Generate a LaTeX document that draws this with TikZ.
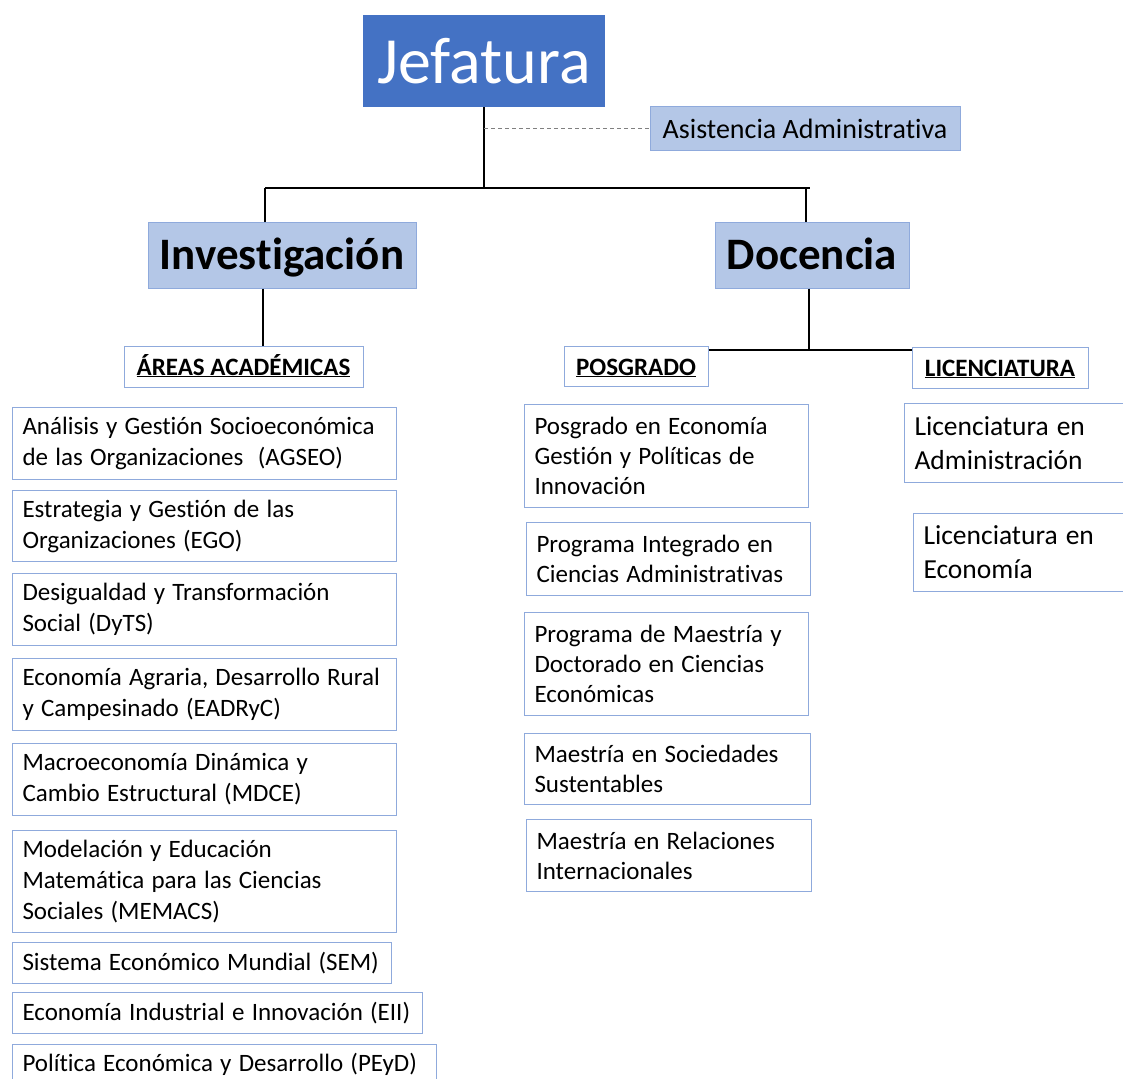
\documentclass[tikz,border=0pt]{standalone}
\usepackage{fontspec}
\setmainfont{Carlito}[Ligatures=NoCommon, RawFeature={-calt}]
\definecolor{jefblue}{HTML}{4472C4}
\definecolor{lightblue}{HTML}{B4C7E7}
\definecolor{bordblue}{HTML}{8FAADC}
\definecolor{dashgray}{HTML}{808080}
\newcommand{\tightsp}{\spaceskip=0.29em plus 0.05em minus 0.02em\relax}
\begin{document}
\begin{tikzpicture}[x=1pt,y=-1pt,
  conn/.style={draw=black, line width=1.3pt},
  headbox/.style={draw=bordblue, fill=lightblue, line width=1pt, inner sep=0pt, align=center},
  subhead/.style={draw=bordblue, fill=white, line width=1pt, inner sep=0pt, align=center, text height=17pt, text depth=0pt, font=\fontsize{25}{30}\selectfont\bfseries},
  itembox/.style={draw=bordblue, fill=white, line width=1pt, anchor=north west, align=left, inner xsep=10pt, inner ysep=0pt, execute at begin node=\tightsp},
  lfont/.style={font=\fontsize{25}{31}\selectfont},
  mfont/.style={font=\fontsize{25}{30}\selectfont},
  rfont/.style={font=\fontsize{27.5}{34}\selectfont}
]
\useasboundingbox (0,0) rectangle (1123,1078);
\clip (0,0) rectangle (1123,1078);

% top
\node[fill=jefblue, inner sep=0pt, minimum width=242, minimum height=92, text=white, font=\fontsize{66}{70}\selectfont] (jef) at (484,61) {Jefatura};
\node[headbox, minimum width=310, minimum height=44, font=\fontsize{28}{30}\selectfont] (asis) at (805,129) {Asistencia Administrativa};
\node[headbox, minimum width=268, minimum height=66, text height=29pt, text depth=0pt, font=\fontsize{45}{48}\selectfont\bfseries] (inv) at (282,255) {Investigación};
\node[headbox, minimum width=194, minimum height=66, text height=29pt, text depth=0pt, font=\fontsize{45}{48}\selectfont\bfseries] (doc) at (812,255) {Docencia};

\node[subhead, minimum width=239, minimum height=41] (areas) at (243.5,366.5) {\underline{ÁREAS ACADÉMICAS}};
\node[subhead, minimum width=144, minimum height=40] (posg) at (636,366.5) {\underline{POSGRADO}};
\node[subhead, minimum width=176, minimum height=41] (lic) at (1000,367.5) {\underline{LICENCIATURA}};

% connectors
\coordinate (busL) at (265,188);
\coordinate (busR) at (810,188);
\coordinate (docdrop) at (806,188);
\coordinate (invx) at (263,0);
\coordinate (dbus) at (809,350);
\draw[conn] (jef.south) -- (jef.south |- busL);
\draw[draw=dashgray, line width=1pt, dash pattern=on 4pt off 3pt] (jef.south |- asis.west) -- (asis.west);
\draw[conn] (busL) -- (busR);
\draw[conn] (busL) -- (busL |- inv.north);
\draw[conn] (docdrop) -- (docdrop |- doc.north);
\draw[conn] (invx |- inv.south) -- (invx |- areas.north);
\draw[conn] (dbus |- doc.south) -- (dbus);
\draw[conn] (posg.east |- dbus) -- (lic.west |- dbus);

% left column
\node[itembox, lfont, text width=364, minimum height=72] (a1) at (12,407) {Análisis y Gestión Socioeconómica\\de las Organizaciones \ (AGSEO)};
\node[itembox, lfont, text width=364, minimum height=71] (a2) at (12,490) {Estrategia y Gestión de las\\Organizaciones (EGO)};
\node[itembox, lfont, text width=364, minimum height=72] (a3) at (12,573) {Desigualdad y Transformación\\Social (DyTS)};
\node[itembox, lfont, text width=364, minimum height=72] (a4) at (12,658) {Economía Agraria, Desarrollo Rural\\y Campesinado (EADRyC)};
\node[itembox, lfont, text width=364, minimum height=72] (a5) at (12,743) {Macroeconomía Dinámica y\\Cambio Estructural (MDCE)};
\node[itembox, lfont, text width=364, minimum height=102] (a6) at (12,830) {Modelación y Educación\\Matemática para las Ciencias\\Sociales (MEMACS)};
\node[itembox, lfont, text width=359, minimum height=41] (a7) at (12,942) {\mbox{Sistema Económico Mundial (SEM)}};
\node[itembox, lfont, text width=390, minimum height=41] (a8) at (12,992) {\mbox{Economía Industrial e Innovación (EII)}};
\node[itembox, lfont, text width=404, minimum height=40] (a9) at (12,1044) {\mbox{Política Económica y Desarrollo (PEyD)}};

% middle column
\node[itembox, mfont, text width=264, minimum height=103] (p1) at (524,404) {Posgrado en Economía\\Gestión y Políticas de\\Innovación};
\node[itembox, mfont, text width=264, minimum height=73] (p2) at (526,522) {Programa Integrado en\\Ciencias Administrativas};
\node[itembox, mfont, text width=264, minimum height=103] (p3) at (524,612) {Programa de Maestría y\\Doctorado en Ciencias\\Económicas};
\node[itembox, mfont, text width=266, minimum height=71] (p4) at (524,733) {Maestría en Sociedades\\Sustentables};
\node[itembox, mfont, text width=265, minimum height=72] (p5) at (526,819) {Maestría en Relaciones\\Internacionales};

% right column
\node[itembox, rfont, text width=210, minimum height=79] (l1) at (904,403) {Licenciatura en\\Administración};
\node[itembox, rfont, text width=200, minimum height=78] (l2) at (913,513) {Licenciatura en\\Economía};
\end{tikzpicture}
\end{document}
